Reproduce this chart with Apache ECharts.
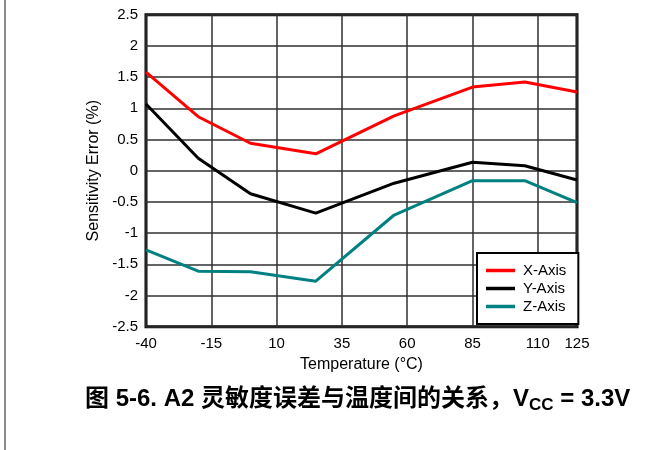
<!DOCTYPE html>
<html>
<head>
<meta charset="utf-8">
<script src="https://cdn.jsdelivr.net/npm/echarts@6/dist/echarts.min.js"></script>
<style>
html,body{margin:0;padding:0;background:#fff;}
#chart{width:663px;height:450px;}
</style>
</head>
<body>
<div id="chart"></div>
<script>
const temps = [-40, -20, 0, 25, 55, 85, 105, 125];
const xAxisErr = [1.58, 0.865, 0.44, 0.27, 0.88, 1.34, 1.42, 1.26];
const yAxisErr = [1.07, 0.20, -0.37, -0.68, -0.20, 0.135, 0.08, -0.15];
const zAxisErr = [-1.27, -1.61, -1.62, -1.77, -0.71, -0.16, -0.16, -0.51];
const seriesNames = ['X-Axis', 'Y-Axis', 'Z-Axis'];
const seriesColors = ['#ff0000', '#000000', '#008080'];
const xTitle = 'Temperature (\u00B0C)';
const yTitle = 'Sensitivity Error (%)';

const FONT = '"Liberation Sans", Arial, sans-serif';
const chart = echarts.init(document.getElementById('chart'), null, {renderer: 'canvas'});
const allData = [xAxisErr, yAxisErr, zAxisErr];
const series = allData.map((vals, i) => ({
  name: seriesNames[i],
  type: 'line',
  symbol: 'none',
  data: temps.map((t, j) => [t, vals[j]]),
  lineStyle: {color: seriesColors[i], width: 3},
  itemStyle: {color: seriesColors[i]},
  z: 3
}));

chart.setOption({
  animation: false,
  backgroundColor: '#fff',
  title: {
    text: '图 5-6. A2 灵敏度误差与温度间的关系，V{sub|CC} = 3.3V',
    left: 80,
    top: 380,
    textStyle: {
      fontFamily: '"Liberation Sans", Arial, "Noto Sans CJK SC", sans-serif',
      fontWeight: 'bold',
      fontSize: 24,
      color: '#000',
      rich: {
        sub: {
          fontFamily: '"Liberation Sans", Arial, sans-serif',
          fontWeight: 'bold',
          fontSize: 17,
          verticalAlign: 'bottom',
          padding: [12, 0, 0, 0],
          color: '#000'
        }
      }
    }
  },
  grid: {
    left: 146, top: 14.7, right: 86, bottom: 123.3,
    show: true, borderColor: '#000', borderWidth: 3, backgroundColor: 'transparent'
  },
  legend: {
    left: 477, top: 253,
    orient: 'vertical',
    icon: 'rect',
    itemWidth: 29, itemHeight: 3.5, itemGap: 3,
    padding: [10, 12, 10, 9],
    borderColor: '#000', borderWidth: 2,
    backgroundColor: '#fff',
    textStyle: {fontFamily: FONT, fontSize: 15, lineHeight: 15, color: '#000', padding: [0, 0, 0, 3]},
    data: seriesNames,
    z: 10
  },
  xAxis: {
    type: 'value',
    min: -40, max: 125, interval: 25,
    name: xTitle,
    nameLocation: 'middle',
    nameGap: 29,
    nameTextStyle: {fontFamily: FONT, fontSize: 16, color: '#000'},
    axisLine: {show: false},
    axisTick: {show: false},
    axisLabel: {fontFamily: FONT, fontSize: 15, color: '#000', margin: 10, showMaxLabel: true, showMinLabel: true},
    splitLine: {show: true, lineStyle: {color: '#303030', width: 1.5}}
  },
  yAxis: {
    type: 'value',
    min: -2.5, max: 2.5, interval: 0.5,
    name: yTitle,
    nameLocation: 'middle',
    nameGap: 44,
    nameTextStyle: {fontFamily: FONT, fontSize: 16, color: '#000'},
    axisLine: {show: false},
    axisTick: {show: false},
    axisLabel: {fontFamily: FONT, fontSize: 15, color: '#000', margin: 8},
    splitLine: {show: true, lineStyle: {color: '#303030', width: 1.5}}
  },
  graphic: [{
    type: 'rect', left: 4, top: 0,
    shape: {width: 2, height: 450},
    style: {fill: '#8a8a8a'}
  }],
  series: series
});
</script>
</body>
</html>
